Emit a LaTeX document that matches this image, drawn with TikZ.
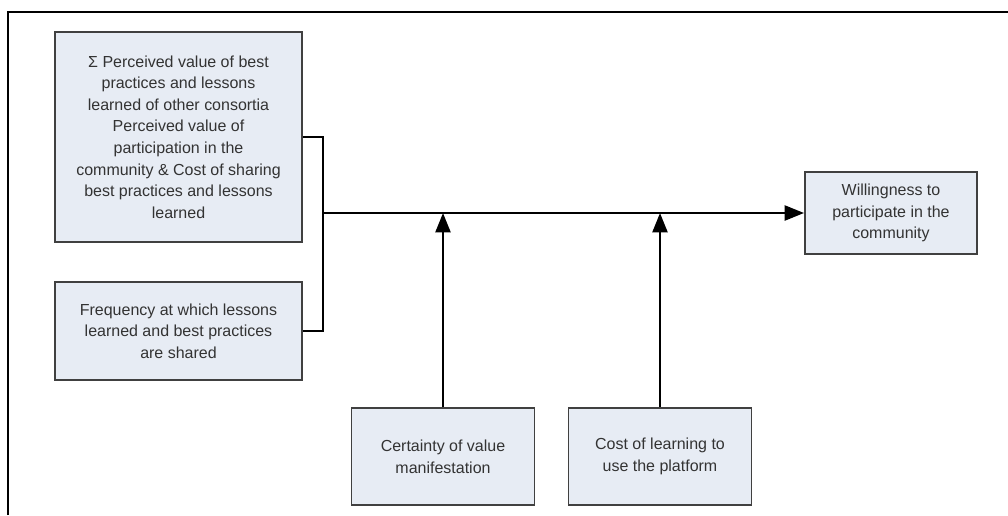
\documentclass[tikz,border=0pt]{standalone}
\usepackage{fontspec}
\setmainfont{Liberation Sans}
\usepackage{tikz}
\usetikzlibrary{arrows.meta}
\definecolor{boxfill}{HTML}{E7ECF4}
\definecolor{boxline}{HTML}{404040}
\tikzset{
	factor/.style={draw=boxline,line width=1.1pt,fill=boxfill,align=center,inner sep=2pt,font=\fontsize{9.1}{12.3}\selectfont,text=black!80},
	link/.style={line width=1.4pt},
	pointer/.style={line width=1.4pt,-{Triangle[length=11pt,width=8.5pt]}}
}

\begin{document}
\begin{tikzpicture}[x=0.02cm,y=-0.02cm]
		\useasboundingbox (0,0) rectangle (1008,515);
		\draw[line width=1.5pt] (8,515) -- (8,12) -- (1008,12);
		\node[factor,minimum width=247*0.02cm,minimum height=210*0.02cm] (value) at (178.5,137) {Σ Perceived value of best\\practices and lessons\\learned of other consortia\\Perceived value of\\participation in the\\community \& Cost of sharing\\best practices and lessons\\learned};
		\node[factor,minimum width=247*0.02cm,minimum height=98*0.02cm] (freq) at (178.5,331) {Frequency at which lessons\\learned and best practices\\are shared};
		\node[factor,minimum width=172*0.02cm,minimum height=82*0.02cm] (will) at (891,213) {Willingness to\\participate in the\\community};
		\node[factor,minimum width=183*0.02cm,minimum height=97*0.02cm] (cert) at (443,456.5) {Certainty of value\\manifestation};
		\node[factor,minimum width=183*0.02cm,minimum height=97*0.02cm] (cost) at (660,456.5) {Cost of learning to\\use the platform};
		\coordinate (junc) at (323,213);
		\draw[link] (value.east) -| (junc) |- (freq.east);
		\draw[pointer] (junc) -- (will.west);
		\draw[pointer] (cert.north) -- (cert.north |- junc);
		\draw[pointer] (cost.north) -- (cost.north |- junc);
	\end{tikzpicture}
\end{document}
